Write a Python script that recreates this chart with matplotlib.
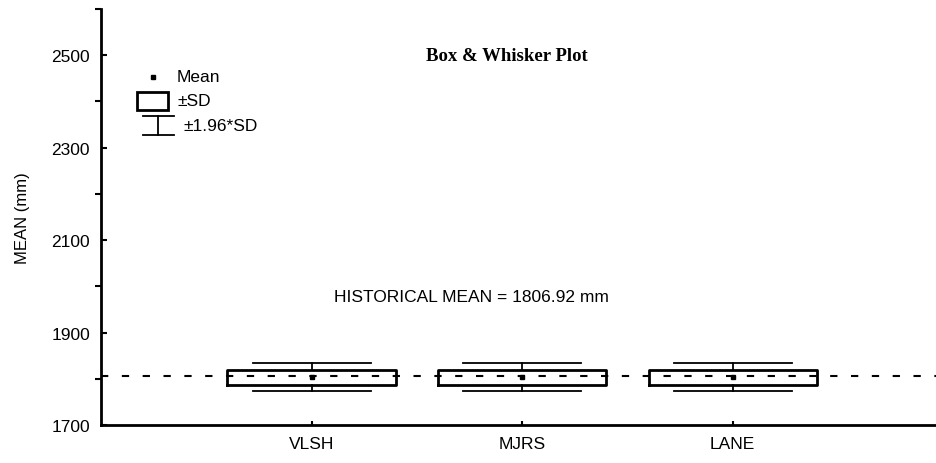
import matplotlib
matplotlib.use("Agg")
import matplotlib.pyplot as plt
from matplotlib.patches import Rectangle
from matplotlib.ticker import MultipleLocator

plt.rcParams['font.family'] = ['Liberation Sans', 'DejaVu Sans']

# data
stations = ["VLSH", "MJRS", "LANE"]
means = [1803, 1803, 1803]
sds = [15.5, 15.5, 15.5]
hist_mean = 1806.92

FS = 12.5

fig = plt.figure(figsize=(9.37, 4.64), dpi=100)
ax = fig.add_axes([0.1078, 0.0819, 0.8922, 0.8966])

stats = []
for name, m, s in zip(stations, means, sds):
    stats.append(dict(label=name, med=m, mean=m, q1=m - s, q3=m + s,
                      whislo=m - 1.96 * s, whishi=m + 1.96 * s, fliers=[]))

pos = list(range(1, len(stations) + 1))
ax.bxp(stats, positions=pos, widths=0.8, capwidths=0.56, showmeans=True,
       showfliers=False,
       boxprops=dict(color='black', linewidth=2),
       whiskerprops=dict(color='black', linewidth=1.3),
       capprops=dict(color='black', linewidth=1.3),
       medianprops=dict(linewidth=0),
       meanprops=dict(marker='s', markersize=3, markerfacecolor='black',
                      markeredgecolor='black'))

ax.axhline(hist_mean, color='black', linestyle=(0, (3.5, 6.5)), linewidth=1.5, zorder=0)

ax.set_xlim(0, 3.97)
ax.set_ylim(1700, 2600)
ax.yaxis.set_major_locator(MultipleLocator(200))
ax.yaxis.set_minor_locator(MultipleLocator(100))
ax.set_yticks([1700, 1900, 2100, 2300, 2500])
ax.set_xticks(pos)
ax.set_xticklabels(stations)
ax.tick_params(axis='both', direction='in', labelsize=FS, width=1.5, pad=8)
ax.tick_params(axis='y', which='both', length=4, width=1.5)
ax.tick_params(axis='x', length=3)

for side in ['top', 'right']:
    ax.spines[side].set_visible(False)
for side in ['left', 'bottom']:
    ax.spines[side].set_linewidth(2)

ax.set_ylabel("MEAN (mm)", fontsize=12, labelpad=15)

ax.text(0.4856, 0.889, "Box & Whisker Plot", transform=ax.transAxes,
        ha='center', va='center', fontsize=13.5, fontweight='bold',
        family='Liberation Serif')
ax.text(0.443, 0.308, "HISTORICAL MEAN = %.2f mm" % hist_mean,
        transform=ax.transAxes, ha='center', va='center', fontsize=FS)

# legend key
ax.plot([0.0622], [0.8365], marker='s', markersize=3, color='black',
        transform=ax.transAxes, clip_on=False)
ax.text(0.0909, 0.8365, "Mean", transform=ax.transAxes, va='center', fontsize=FS)
ax.add_patch(Rectangle((0.0427, 0.758), 0.0378, 0.0418, transform=ax.transAxes,
                       fill=False, edgecolor='black', linewidth=2))
ax.text(0.0909, 0.779, "\u00b1SD", transform=ax.transAxes, va='center', fontsize=FS)
ax.plot([0.0499, 0.0870], [0.7435, 0.7435], color='black', lw=1.3, transform=ax.transAxes)
ax.plot([0.0499, 0.0870], [0.697, 0.697], color='black', lw=1.3, transform=ax.transAxes)
ax.plot([0.0684, 0.0684], [0.697, 0.7435], color='black', lw=1.3, transform=ax.transAxes)
ax.text(0.0985, 0.721, "\u00b11.96*SD", transform=ax.transAxes, va='center', fontsize=FS)

fig.savefig("out.png", dpi=100)
